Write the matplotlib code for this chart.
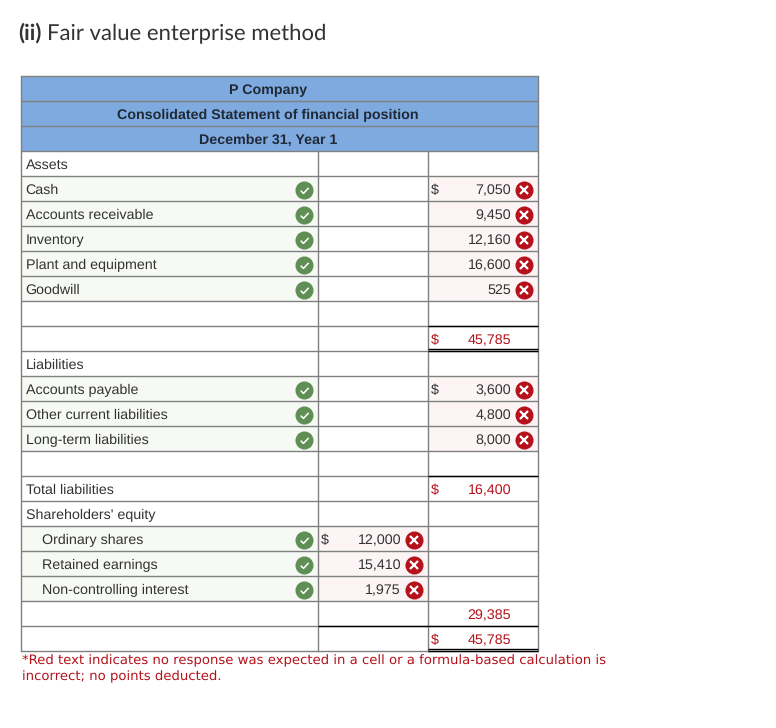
import matplotlib
matplotlib.use("Agg")
import matplotlib.pyplot as plt
from matplotlib.patches import Rectangle
from matplotlib.path import Path

plt.rcParams["text.hinting"] = "no_hinting"
plt.rcParams["text.hinting_factor"] = 8

# ---------- content ----------
title_bold = "(ii)"
title_rest = "Fair value enterprise method"
headers = ["P Company", "Consolidated Statement of financial position", "December 31, Year 1"]
labels = ["Assets", "Cash", "Accounts receivable", "Inventory", "Plant and equipment", "Goodwill", "",
          "", "Liabilities", "Accounts payable", "Other current liabilities", "Long-term liabilities", "",
          "Total liabilities", "Shareholders' equity", "Ordinary shares", "Retained earnings",
          "Non-controlling interest", "", ""]
col1_values = ["", "", "", "", "", "", "", "", "", "", "", "", "", "", "", "12,000", "15,410", "1,975", "", ""]
col2_values = ["", "7,050", "9,450", "12,160", "16,600", "525", "", "45,785", "", "3,600", "4,800", "8,000", "",
               "16,400", "", "", "", "", "29,385", "45,785"]
col1_dollar = [15]
col2_dollar = [1, 7, 9, 13, 19]
col2_red = [7, 13, 18, 19]
checked_rows = [1, 2, 3, 4, 5, 9, 10, 11, 15, 16, 17]
indented_rows = [15, 16, 17]
col2_top_rule = [7, 13, 19]
col2_double_rule = [7, 19]
col1_top_rule = [19]
footnote = ("*Red text indicates no response was expected in a cell or a formula-based calculation is\n"
            "incorrect; no points deducted.")

# ---------- style ----------
GRID = "#808080"
BLUE = "#7faae0"
DARK = "#333333"
HEAD = "#1f2a36"
RED = "#b5121b"
GREEN = "#5f8f55"
G_TINT = "#f6f9f4"
R_TINT = "#fdf4f5"
SANS = "Liberation Sans"
FS = 10.25
FSV = 10.3
X0, X1, X2, X3 = 21.0, 318.0, 428.0, 538.0
Y0 = 76.0
RH = 25.0
YB = Y0 + 3 * RH
ICON = 13.0

fig = plt.figure(figsize=(7.76, 7.28), dpi=100)
ax = fig.add_axes([0, 0, 1, 1])
ax.set_xlim(0, 776)
ax.set_ylim(728, 0)
ax.axis("off")

def ry(i):
    return YB + i * RH

# Title
t = ax.text(18, 33, title_bold, fontsize=15.9, family="Lato", fontweight="bold", color=DARK, va="center")
fig.canvas.draw()
bb = t.get_window_extent()
ax.text(bb.x1 + 6, 33, title_rest, fontsize=15.9, family="Lato", color=DARK, va="center")

# Header
ax.add_patch(Rectangle((X0, Y0), X3 - X0, 3 * RH, fc=BLUE, ec="none", zorder=1))
for i, h in enumerate(headers):
    ax.text(268, Y0 + (i + .5) * RH + 1.6, h, fontsize=10.3, family=SANS, fontweight="bold",
            color=HEAD, ha="center", va="center", zorder=5)

# Cell tints
n = len(labels)
for i in checked_rows:
    ax.add_patch(Rectangle((X0, ry(i)), X1 - X0, RH, fc=G_TINT, ec="none", zorder=1))
for i, v in enumerate(col1_values):
    if v:
        ax.add_patch(Rectangle((X1, ry(i)), X2 - X1, RH, fc=R_TINT, ec="none", zorder=1))
for i, v in enumerate(col2_values):
    if v and i not in col2_red:
        ax.add_patch(Rectangle((X2, ry(i)), X3 - X2, RH, fc=R_TINT, ec="none", zorder=1))

# Grid
for k in range(n + 4):
    y = Y0 + k * RH
    ax.plot([X0, X3], [y, y], color=GRID, lw=1.0, zorder=2, solid_capstyle="butt")
ax.plot([X0, X0], [Y0, ry(n)], color=GRID, lw=1.0, zorder=2)
ax.plot([X3, X3], [Y0, ry(n)], color=GRID, lw=1.0, zorder=2)
ax.plot([X1, X1], [YB, ry(n)], color=GRID, lw=1.0, zorder=2)
ax.plot([X2, X2], [YB, ry(n)], color=GRID, lw=1.0, zorder=2)

# Accounting rules
for i in col2_top_rule:
    ax.plot([X2, X3], [ry(i), ry(i)], color="black", lw=1.0, zorder=3, solid_capstyle="butt")
for i in col1_top_rule:
    ax.plot([X1, X2], [ry(i), ry(i)], color="black", lw=1.0, zorder=3, solid_capstyle="butt")
for i in col2_double_rule:
    for dy in (RH - 2, RH):
        ax.plot([X2, X3], [ry(i) + dy, ry(i) + dy], color="black", lw=1.0, zorder=3, solid_capstyle="butt")

# Row text
def cy(i):
    return ry(i) + RH / 2 + 1.6

for i, s in enumerate(labels):
    if s:
        ax.text(42 if i in indented_rows else 25.5, cy(i), s, fontsize=FS, family=SANS, color=DARK,
                va="center", zorder=5)
for i, v in enumerate(col1_values):
    if v:
        ax.text(401, cy(i), v, fontsize=FSV, family=SANS, color=DARK, ha="right", va="center", zorder=5)
for i, v in enumerate(col2_values):
    if v:
        ax.text(511, cy(i), v, fontsize=FSV, family=SANS, color=RED if i in col2_red else DARK,
                ha="right", va="center", zorder=5)
for i in col1_dollar:
    ax.text(320.5, cy(i), "$", fontsize=FSV, family=SANS, color=DARK, va="center", zorder=5)
for i in col2_dollar:
    ax.text(430.5, cy(i), "$", fontsize=FSV, family=SANS, color=RED if i in col2_red else DARK,
            va="center", zorder=5)

# Status icons
check = Path([(-.55, -.02), (-.15, -.42), (.6, .38)], [Path.MOVETO, Path.LINETO, Path.LINETO])
def icon_y(i):
    return ry(i) + RH / 2 + 1

for i in checked_rows:
    ax.plot([304], [icon_y(i)], marker="o", ms=ICON, mfc=GREEN, mec="none", zorder=6)
    ax.plot([304], [icon_y(i)], marker=check, ms=6, mfc="none", mec="white", mew=1.1, zorder=7, ls="none")
for i, v in enumerate(col1_values):
    if v:
        ax.plot([413.7], [icon_y(i)], marker="o", ms=ICON, mfc=RED, mec="none", zorder=6)
        ax.plot([413.7], [icon_y(i)], marker="x", ms=5.8, mec="white", mew=1.6, zorder=7)
for i, v in enumerate(col2_values):
    if v and i not in col2_red:
        ax.plot([523.7], [icon_y(i)], marker="o", ms=ICON, mfc=RED, mec="none", zorder=6)
        ax.plot([523.7], [icon_y(i)], marker="x", ms=5.8, mec="white", mew=1.6, zorder=7)

# Footnote
ax.text(21.5, 654, footnote, fontsize=9.58, family="DejaVu Sans", color=RED, va="top", linespacing=1.36)

fig.savefig("out.png", dpi=100)
